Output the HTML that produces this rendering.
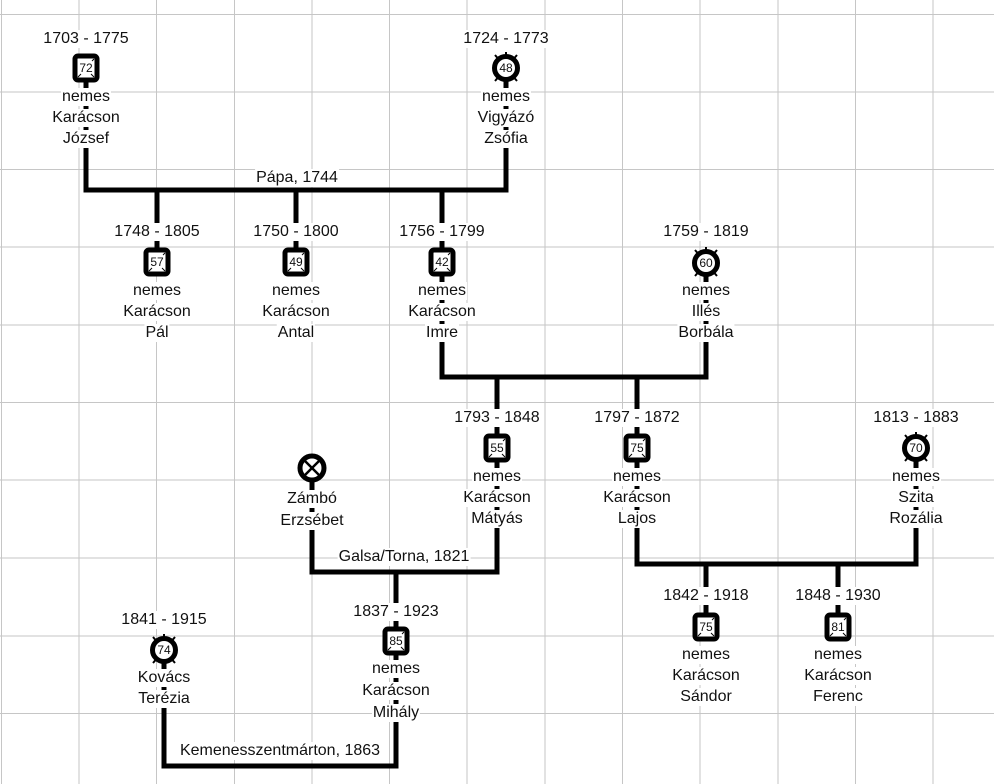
<!DOCTYPE html>
<html><head><meta charset="utf-8"><style>
body{margin:0;width:994px;height:784px;overflow:hidden;background:#fff;font-family:"Liberation Sans",Arial,sans-serif;}
svg{position:absolute;left:0;top:0}
.t{position:absolute;transform:translateX(-50%);background:#fff;font-size:16px;line-height:18px;white-space:nowrap;color:#111;padding:0 1px}
</style></head><body>
<svg width="994" height="784" xmlns="http://www.w3.org/2000/svg">
<g stroke="#c6c6c6" stroke-width="1">
<line x1="1.5" y1="0" x2="1.5" y2="784"/><line x1="79" y1="0" x2="79" y2="784"/><line x1="156.5" y1="0" x2="156.5" y2="784"/><line x1="234.5" y1="0" x2="234.5" y2="784"/><line x1="312" y1="0" x2="312" y2="784"/><line x1="389.5" y1="0" x2="389.5" y2="784"/><line x1="467" y1="0" x2="467" y2="784"/><line x1="545" y1="0" x2="545" y2="784"/><line x1="622.5" y1="0" x2="622.5" y2="784"/><line x1="700" y1="0" x2="700" y2="784"/><line x1="778" y1="0" x2="778" y2="784"/><line x1="855.5" y1="0" x2="855.5" y2="784"/><line x1="933" y1="0" x2="933" y2="784"/>
<line x1="0" y1="14.5" x2="994" y2="14.5"/><line x1="0" y1="92" x2="994" y2="92"/><line x1="0" y1="169.5" x2="994" y2="169.5"/><line x1="0" y1="247" x2="994" y2="247"/><line x1="0" y1="325" x2="994" y2="325"/><line x1="0" y1="402.5" x2="994" y2="402.5"/><line x1="0" y1="480" x2="994" y2="480"/><line x1="0" y1="558" x2="994" y2="558"/><line x1="0" y1="636" x2="994" y2="636"/><line x1="0" y1="713.5" x2="994" y2="713.5"/>
</g>
<g stroke="#000" stroke-width="5" fill="none" stroke-linecap="square">
<polyline points="86,70 86,190 506,190 506,70"/>
<line x1="157" y1="190" x2="157" y2="262"/><line x1="296" y1="190" x2="296" y2="262"/><line x1="442" y1="190" x2="442" y2="262"/>
<polyline points="442,262 442,377 706,377 706,262"/>
<line x1="497" y1="377" x2="497" y2="448"/><line x1="637" y1="377" x2="637" y2="448"/>
<polyline points="637,448 637,564 916,564 916,448"/>
<line x1="706" y1="564" x2="706" y2="627"/><line x1="838" y1="564" x2="838" y2="627"/>
<polyline points="312,468 312,572 497,572 497,448"/>
<line x1="396" y1="572" x2="396" y2="641"/>
<polyline points="164,650 164,766 396,766 396,641"/>
</g>
<defs>
<g id="m"><rect x="-11" y="-12" width="22" height="24" rx="3" fill="#fff" stroke="#000" stroke-width="5"/>
<g stroke="#000" stroke-width="1"><line x1="-8" y1="9" x2="-5" y2="6"/><line x1="8" y1="9" x2="5" y2="6"/><line x1="8" y1="-9" x2="6" y2="-7"/></g></g>
<g id="f"><g stroke="#000" stroke-width="2"><line x1="-11" y1="-13" x2="11" y2="13"/><line x1="11" y1="-13" x2="-11" y2="13"/><line x1="0" y1="-16" x2="0" y2="16"/></g>
<circle r="11.5" fill="#fff" stroke="#000" stroke-width="5"/></g>
</defs>
<g font-family="Liberation Sans,Arial,sans-serif" font-size="12" text-anchor="middle" fill="#111">
<use href="#m" x="86" y="68"/><text x="86" y="72">72</text>
<use href="#f" x="506" y="68"/><text x="506" y="72">48</text>
<use href="#m" x="157" y="262"/><text x="157" y="266">57</text>
<use href="#m" x="296" y="262"/><text x="296" y="266">49</text>
<use href="#m" x="442" y="262"/><text x="442" y="266">42</text>
<use href="#f" x="706" y="263"/><text x="706" y="267">60</text>
<use href="#m" x="497" y="448"/><text x="497" y="452">55</text>
<use href="#m" x="637" y="448"/><text x="637" y="452">75</text>
<use href="#f" x="916" y="448"/><text x="916" y="452">70</text>
<use href="#m" x="706" y="627"/><text x="706" y="631">75</text>
<use href="#m" x="838" y="627"/><text x="838" y="631">81</text>
<use href="#m" x="396" y="641"/><text x="396" y="645">85</text>
<use href="#f" x="164" y="650"/><text x="164" y="654">74</text>
<g><circle cx="312" cy="468" r="12" fill="#fff" stroke="#000" stroke-width="5"/><line x1="304" y1="460" x2="320" y2="476" stroke="#000" stroke-width="2.5"/><line x1="320" y1="460" x2="304" y2="476" stroke="#000" stroke-width="2.5"/></g>
</g>
</svg>
<div class="t" style="left:86px;top:30px">1703 - 1775</div>
<div class="t" style="left:86px;top:88px">nemes</div><div class="t" style="left:86px;top:109px">Karácson</div><div class="t" style="left:86px;top:130px">József</div>
<div class="t" style="left:506px;top:30px">1724 - 1773</div>
<div class="t" style="left:506px;top:88px">nemes</div><div class="t" style="left:506px;top:109px">Vigyázó</div><div class="t" style="left:506px;top:130px">Zsófia</div>
<div class="t" style="left:297px;top:169px">Pápa, 1744</div>
<div class="t" style="left:157px;top:223px">1748 - 1805</div>
<div class="t" style="left:157px;top:282px">nemes</div><div class="t" style="left:157px;top:303px">Karácson</div><div class="t" style="left:157px;top:324px">Pál</div>
<div class="t" style="left:296px;top:223px">1750 - 1800</div>
<div class="t" style="left:296px;top:282px">nemes</div><div class="t" style="left:296px;top:303px">Karácson</div><div class="t" style="left:296px;top:324px">Antal</div>
<div class="t" style="left:442px;top:223px">1756 - 1799</div>
<div class="t" style="left:442px;top:282px">nemes</div><div class="t" style="left:442px;top:303px">Karácson</div><div class="t" style="left:442px;top:324px">Imre</div>
<div class="t" style="left:706px;top:223px">1759 - 1819</div>
<div class="t" style="left:706px;top:282px">nemes</div><div class="t" style="left:706px;top:303px">Illés</div><div class="t" style="left:706px;top:324px">Borbála</div>
<div class="t" style="left:497px;top:409px">1793 - 1848</div>
<div class="t" style="left:497px;top:468px">nemes</div><div class="t" style="left:497px;top:489px">Karácson</div><div class="t" style="left:497px;top:510px">Mátyás</div>
<div class="t" style="left:637px;top:409px">1797 - 1872</div>
<div class="t" style="left:637px;top:468px">nemes</div><div class="t" style="left:637px;top:489px">Karácson</div><div class="t" style="left:637px;top:510px">Lajos</div>
<div class="t" style="left:916px;top:409px">1813 - 1883</div>
<div class="t" style="left:916px;top:468px">nemes</div><div class="t" style="left:916px;top:489px">Szita</div><div class="t" style="left:916px;top:510px">Rozália</div>
<div class="t" style="left:312px;top:490px">Zámbó</div><div class="t" style="left:312px;top:512px">Erzsébet</div>
<div class="t" style="left:404px;top:548px">Galsa/Torna, 1821</div>
<div class="t" style="left:706px;top:587px">1842 - 1918</div>
<div class="t" style="left:706px;top:646px">nemes</div><div class="t" style="left:706px;top:667px">Karácson</div><div class="t" style="left:706px;top:688px">Sándor</div>
<div class="t" style="left:838px;top:587px">1848 - 1930</div>
<div class="t" style="left:838px;top:646px">nemes</div><div class="t" style="left:838px;top:667px">Karácson</div><div class="t" style="left:838px;top:688px">Ferenc</div>
<div class="t" style="left:396px;top:603px">1837 - 1923</div>
<div class="t" style="left:396px;top:660px">nemes</div><div class="t" style="left:396px;top:682px">Karácson</div><div class="t" style="left:396px;top:704px">Mihály</div>
<div class="t" style="left:164px;top:611px">1841 - 1915</div>
<div class="t" style="left:164px;top:669px">Kovács</div><div class="t" style="left:164px;top:690px">Terézia</div>
<div class="t" style="left:280px;top:742px">Kemenesszentmárton, 1863</div>
</body></html>
